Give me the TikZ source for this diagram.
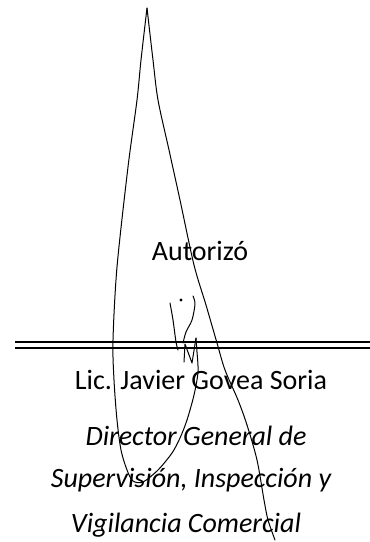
\documentclass[tikz,border=0pt]{standalone}
\usepackage{fontspec}
\setmainfont{Carlito}
\usetikzlibrary{positioning}

\begin{document}
\begin{tikzpicture}[
    x=1pt, y=-1pt,
    nametext/.style={font=\fontsize{28}{32}\selectfont, anchor=base, inner sep=0pt},
    roletext/.style={font=\fontsize{28}{32}\selectfont\itshape, anchor=base, inner sep=0pt},
    rule/.style={line width=1.8pt},
    pen/.style={line width=1pt, line cap=round, line join=round}
  ]
  \useasboundingbox (0,0) rectangle (370,542);

  % Nodes
  \node (auth) [nametext] at (200,260) {Autorizó};
  \node (name) [nametext] at (201,389) {Lic. Javier Govea Soria};
  \node (role1) [roletext] at (196,445) {Director General de};
  \node (role2) [roletext] at (191,487) {Supervisión, Inspección y};
  \node (role3) [roletext] at (186,532) {Vigilancia Comercial};

  % Signature line
  \coordinate (ruleL) at (15,342);
  \coordinate (ruleR) at (370,342);
  \draw [rule] (ruleL) -- (ruleR);
  \draw [rule] ([yshift=-6pt]ruleL) -- ([yshift=-6pt]ruleR);

  % Signature
  \coordinate (apex) at (147,8);
  \draw [pen] plot [smooth, tension=0.5] coordinates {(147,8) (153,60) (158,100) (169,150) (180,200) (194,265) (206,305) (217,343) (225,370) (238,400) (247,425) (257,460) (264,500) (268,520) (275,540)};
  \draw [pen] plot [smooth, tension=0.5] coordinates {(147,8) (141,60) (137,100) (128,167) (117,267) (113,340) (114,380) (117,420) (121,450) (127,470) (133,481) (143,482) (158,470) (172,453) (180,438) (187,420) (194,395) (198,372) (197,352) (196,338)};
  \draw [pen] (196,338) -- (192,363) -- (185,344) -- (184,362);
  \draw [pen] plot [smooth, tension=0.5] coordinates {(193,296) (195,304) (192,320) (186,332) (183,343)};
  \draw [pen] plot [smooth, tension=0.5] coordinates {(170,303) (173,320) (176,342) (178,350)};
  \fill (181,300) circle (1.6);
\end{tikzpicture}
\end{document}
